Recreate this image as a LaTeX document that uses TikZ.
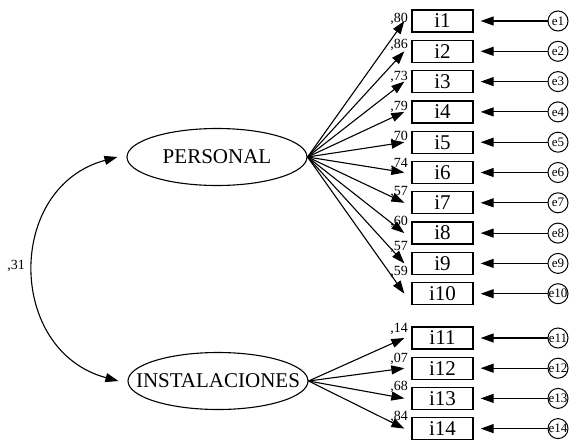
\documentclass[tikz,border=0pt]{standalone}
\usepackage{fontspec}
\setmainfont{Liberation Serif}
\usetikzlibrary{arrows.meta,shapes.geometric}
\begin{document}
\begin{tikzpicture}[x=1pt,y=-1pt,
  obs/.style={draw,line width=1.3pt,minimum width=61pt,minimum height=22pt,inner sep=0pt,font=\fontsize{21}{21}\selectfont},
  lat/.style={draw,ellipse,line width=1.1pt,minimum width=180pt,minimum height=57pt,inner sep=0pt},
  latlab/.style={font=\fontsize{21}{21}\selectfont,inner sep=0pt},
  err/.style={draw,circle,line width=1pt,minimum size=20pt,inner sep=0pt},
  errlab/.style={font=\fontsize{13}{13}\selectfont,inner sep=0pt},
  arr/.style={line width=1.1pt,-{Triangle[length=13pt,width=9pt]}},
  dblarr/.style={line width=1.1pt,{Triangle[length=13pt,width=9pt]}-{Triangle[length=13pt,width=9pt]}},
  ld/.style={font=\fontsize{14}{14}\selectfont,inner sep=0pt,anchor=base east}]
\useasboundingbox (0,0) rectangle (573,442);

% latent variables
\node[lat,label={[latlab]center:PERSONAL}] (P) at (217,157) {};
\node[lat,label={[latlab]center:INSTALACIONES}] (I) at (218,381) {};

% correlation
\draw[dblarr] ([xshift=-9pt]P.west) .. controls +(-112,30) and +(-112,-30) .. ([xshift=-9pt]I.west);
\node[font=\fontsize{14}{14}\selectfont,inner sep=0pt] (r) at (16,266) {,31};

% indicators of PERSONAL
\foreach \i/\y/\ly/\l in {1/21/22/80,2/51.3/48/86,3/81.6/80/73,4/111.9/110/79,5/142.2/140/70,
  6/172.5/167/74,7/202.8/195/57,8/233.1/225/60,9/263.4/250/57,10/293.7/275/59}{
  \node[obs] (b\i) at (442.5,\y) {i\i};
  \node[err,label={[errlab]center:e\i}] (e\i) at (558,\y) {};
  \draw[arr] (P.east) -- ([xshift=-7pt]b\i.west);
  \draw[arr] (e\i.west) -- ([xshift=7pt]b\i.east);
  \node[ld] (l\i) at (408,\ly) {,\l};
}

% indicators of INSTALACIONES
\foreach \i/\y/\ly/\l in {11/338/332/14,12/368.2/362/07,13/398.4/390/68,14/428.6/420/84}{
  \node[obs] (b\i) at (442.5,\y) {i\i};
  \node[err,label={[errlab]center:e\i}] (e\i) at (558,\y) {};
  \draw[arr] (I.east) -- ([xshift=-7pt]b\i.west);
  \draw[arr] (e\i.west) -- ([xshift=7pt]b\i.east);
  \node[ld] (l\i) at (408,\ly) {,\l};
}
\end{tikzpicture}
\end{document}
